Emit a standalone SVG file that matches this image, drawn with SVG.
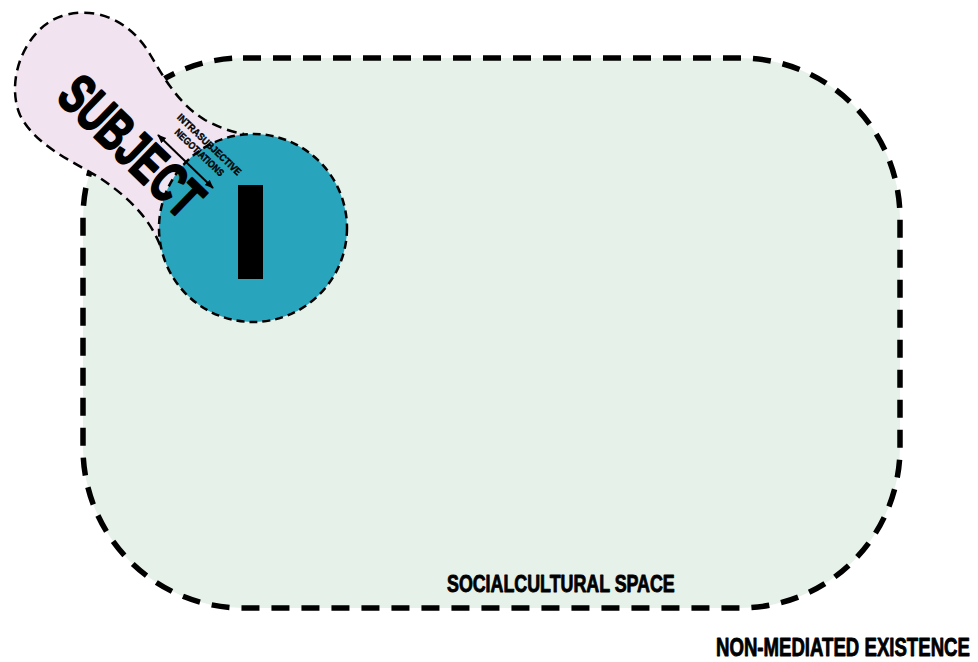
<svg xmlns="http://www.w3.org/2000/svg" width="978" height="662" viewBox="0 0 978 662">
<style>
.heavy{font-family:"Liberation Sans","DejaVu Sans",sans-serif;font-weight:bold;fill:#000;stroke:#000;stroke-linejoin:round;}
.thin-dash{fill:none;stroke:#000;stroke-width:2.5;stroke-dasharray:10 6;}
</style>
<defs>
<marker id="ah" viewBox="0 0 10 10" refX="9" refY="5" markerWidth="9" markerHeight="9" markerUnits="userSpaceOnUse" orient="auto-start-reverse">
<path d="M0,1 L10,5 L0,9 Z" fill="#000"/>
</marker>
</defs>
<rect width="978" height="662" fill="#fff"/>
<g id="socialcultural-space">
<rect x="83" y="58" width="817" height="550" rx="160" ry="160" fill="#e6f1e9" stroke="#000" stroke-width="5.5" stroke-dasharray="18 12"/>
<text class="heavy" transform="translate(447,592) scale(0.73,1)" x="0" y="0" font-size="24" stroke-width="0.9" textLength="312" lengthAdjust="spacingAndGlyphs">SOCIALCULTURAL SPACE</text>
</g>
<g id="subject-shape">
<path d="M160,245 C148,215 125,195 100,178 C70,160 35,145 20,115 C5,80 25,28 62,16 C97,5 132,22 151,56 C165,80 180,105 205,120 C220,128 232,132 244,134 L253,228 Z" fill="#f1e3ef"/>
<path class="thin-dash" d="M160,245 C148,215 125,195 100,178 C70,160 35,145 20,115 C5,80 25,28 62,16 C97,5 132,22 151,56 C165,80 180,105 205,120 C220,128 232,132 244,134"/>
</g>
<g id="i-node">
<circle cx="253" cy="228" r="94" fill="#28a4bd" stroke="#000" stroke-width="2.5" stroke-dasharray="8 5"/>
<rect x="238" y="185" width="25" height="94" fill="#000"/>
</g>
<g id="subject">
<text class="heavy" transform="translate(118,160) rotate(44) scale(0.68,1)" x="0" y="0" text-anchor="middle" font-size="56" stroke-width="2.2" textLength="259" lengthAdjust="spacingAndGlyphs">SUBJECT</text>
</g>
<g id="connectors">
<line x1="158" y1="135" x2="213" y2="188" stroke="#000" stroke-width="2" marker-start="url(#ah)" marker-end="url(#ah)"/>
<text class="heavy" transform="translate(207,147) rotate(43.5) scale(0.75,1)" x="0" y="0" text-anchor="middle" font-size="10" stroke-width="0.4" textLength="112" lengthAdjust="spacingAndGlyphs">INTRASUBJECTIVE</text>
<text class="heavy" transform="translate(197,155) rotate(43.5) scale(0.75,1)" x="0" y="0" text-anchor="middle" font-size="10" stroke-width="0.4" textLength="85" lengthAdjust="spacingAndGlyphs">NEGOTIATIONS</text>
</g>
<g id="non-mediated-existence">
<text class="heavy" transform="translate(716,656) scale(0.69,1)" x="0" y="0" font-size="26" stroke-width="0.9" textLength="368" lengthAdjust="spacingAndGlyphs">NON-MEDIATED EXISTENCE</text>
</g>
</svg>
